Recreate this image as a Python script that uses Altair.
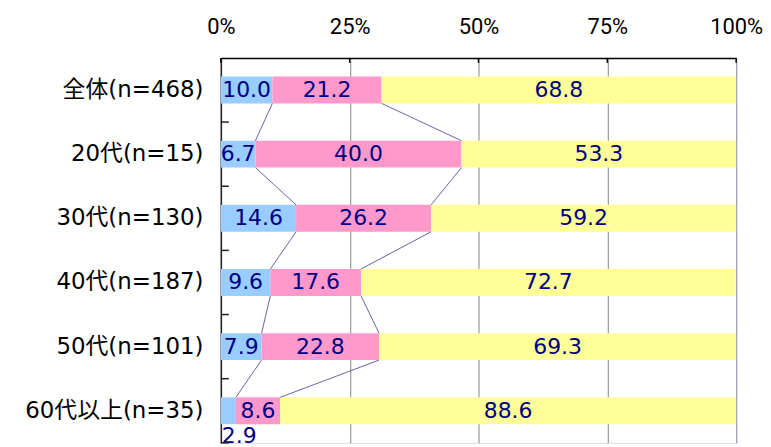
import altair as alt
import pandas as pd

categories = ["全体(n=468)", "20代(n=15)", "30代(n=130)", "40代(n=187)", "50代(n=101)", "60代以上(n=35)"]
seg1 = [10.0, 6.7, 14.6, 9.6, 7.9, 2.9]
seg2 = [21.2, 40.0, 26.2, 17.6, 22.8, 8.6]
seg3 = [68.8, 53.3, 59.2, 72.7, 69.3, 88.6]
series_names = ["A", "B", "C"]
colors = ["#99CCFF", "#FF99CC", "#FFFF99"]
x_ticks = [0, 25, 50, 75, 100]

FONT = "DejaVu Sans, Noto Sans CJK JP"
TOP_FONT = "Roboto"
STEP = 387 / 6
BAR_H = 27

# Build segment table
rows = []
for i, c in enumerate(categories):
    vals = [seg1[i], seg2[i], seg3[i]]
    start = 0.0
    for s, v in zip(series_names, vals):
        end = start + v
        rows.append({"cat": c, "series": s, "start": start, "end": min(end, 100.0),
                     "mid": (start + min(end, 100.0)) / 2, "label": f"{v:.1f}",
                     "special": (s == "A" and i == len(categories) - 1)})
        start = end
seg = pd.DataFrame(rows)

# connector lines between cumulative boundaries of consecutive rows
conn = []
for i in range(len(categories) - 1):
    c1a = seg1[i]
    c1b = seg1[i + 1]
    c2a = seg1[i] + seg2[i]
    c2b = seg1[i + 1] + seg2[i + 1]
    conn.append({"from": categories[i], "to": categories[i + 1], "x": c1a, "x2": c1b})
    conn.append({"from": categories[i], "to": categories[i + 1], "x": c2a, "x2": c2b})
conn = pd.DataFrame(conn)

yscale = alt.Scale(domain=categories, paddingInner=0.58, paddingOuter=0.29)
xscale = alt.Scale(domain=[0, 100], clamp=True)

base = alt.Chart(seg)

bars = base.mark_bar(size=BAR_H).encode(
    x=alt.X("start:Q", scale=xscale,
            axis=alt.Axis(orient="top", values=x_ticks, labelExpr="datum.value + '%'",
                          title=None, ticks=False, domain=True, domainColor="#000000",
                          domainWidth=1.5, labelFlush=False, labelOverlap=False,
                          labelFont=TOP_FONT, labelFontSize=22, labelColor="#000000",
                          labelBaseline="alphabetic", labelPadding=25,
                          grid=True, gridWidth=1.2,
                          gridColor={"condition": {"test": "datum.value == 100", "value": "#9999BB"},
                                     "value": "#999999"})),
    x2="end:Q",
    y=alt.Y("cat:N", scale=yscale, sort=categories,
            axis=alt.Axis(title=None, ticks=False, domain=True, domainColor="#222222",
                          domainWidth=1.5, labelFont=FONT, labelFontSize=23,
                          labelColor="#000000", labelPadding=18, labelLimit=300)),
    color=alt.Color("series:N", scale=alt.Scale(domain=series_names, range=colors), legend=None),
)

labels = base.transform_filter("!datum.special").mark_text(
    font=FONT, fontSize=22, color="#000080", baseline="middle", align="center"
).encode(
    x=alt.X("mid:Q", scale=xscale),
    y=alt.Y("cat:N", scale=yscale, sort=categories),
    text="label:N",
)

special = base.transform_filter("datum.special").mark_text(
    font=FONT, fontSize=22, color="#000080", baseline="middle", align="left", dy=25, dx=1
).encode(
    x=alt.X("start:Q", scale=xscale),
    y=alt.Y("cat:N", scale=yscale, sort=categories),
    text="label:N",
)

connectors = alt.Chart(conn).mark_rule(
    color="#6666A0", strokeWidth=1, yOffset=BAR_H / 2, y2Offset=-BAR_H / 2
).encode(
    x=alt.X("x:Q", scale=xscale),
    x2="x2:Q",
    y=alt.Y("from:N", scale=yscale, sort=categories),
    y2="to:N",
)

tick_df = pd.DataFrame({"cat": categories})
left_ticks = alt.Chart(tick_df).transform_filter(
    alt.FieldOneOfPredicate(field="cat", oneOf=categories[1:])
).mark_rule(color="#222222", strokeWidth=1.5, yOffset=-STEP / 2).encode(
    y=alt.Y("cat:N", scale=yscale, sort=categories),
    x=alt.value(0), x2=alt.value(8),
)
bottom_tick = alt.Chart(tick_df).transform_filter(
    alt.FieldEqualPredicate(field="cat", equal=categories[-1])
).mark_rule(color="#222222", strokeWidth=1.5, yOffset=STEP / 2).encode(
    y=alt.Y("cat:N", scale=yscale, sort=categories),
    x=alt.value(0), x2=alt.value(8),
)

top_df = pd.DataFrame({"v": x_ticks})
top_ticks = alt.Chart(top_df).mark_rule(color="#000000", strokeWidth=1.5).encode(
    x=alt.X("v:Q", scale=xscale),
    y=alt.value(0), y2=alt.value(5),
)

chart = alt.layer(bars, connectors, labels, special, left_ticks, bottom_tick, top_ticks).properties(
    width=518, height=387,
    autosize=alt.AutoSizeParams(type="none"),
    padding={"left": 214, "top": 49, "right": 27, "bottom": 3},
).configure_view(stroke=None).configure(background="#FFFFFF")

chart.save("out.html", embed_options={"renderer": "svg", "actions": False})
